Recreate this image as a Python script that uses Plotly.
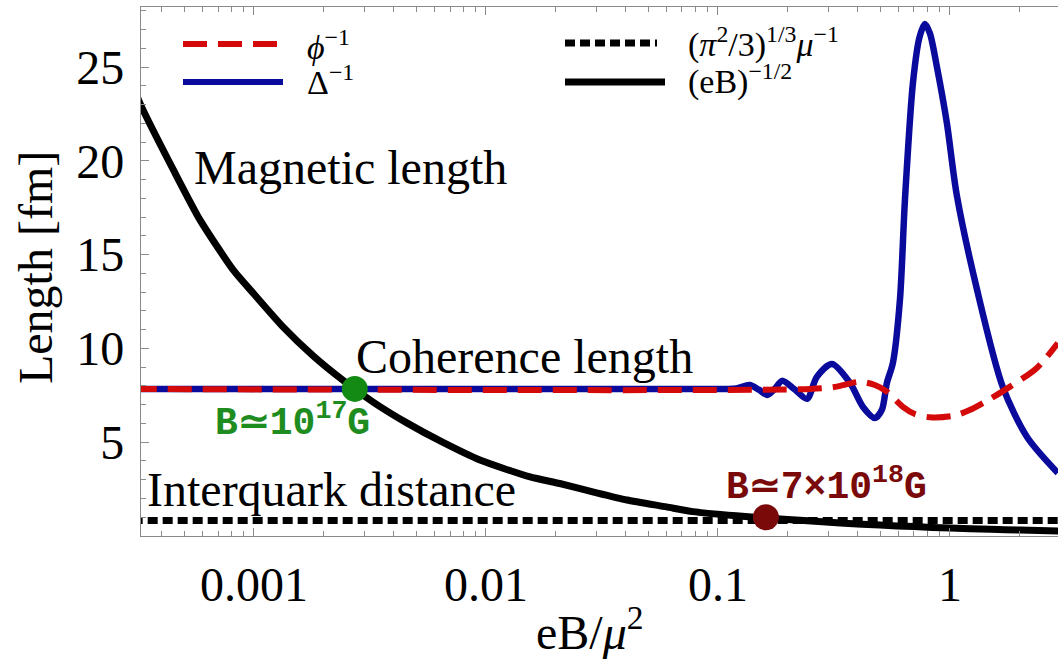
import plotly.graph_objects as go

# ---------------- data ----------------
x_mag = [0.00030, 0.000327, 0.00045, 0.000585, 0.000812, 0.001, 0.001334, 0.0018,
         0.00242, 0.0033, 0.00456, 0.0065, 0.00942, 0.0155, 0.0208, 0.03, 0.0405,
         0.06, 0.078, 0.12, 0.163, 0.226, 0.35, 0.5, 0.7, 1.0, 1.5, 2.0, 3.0]
y_mag = [24.0, 22.9, 19.5, 16.85, 14.2, 12.9, 11.15, 9.6,
         8.3, 7.1, 6.03, 5.0, 4.05, 3.15, 2.8, 2.3, 1.92,
         1.55, 1.3, 1.08, 0.96, 0.84, 0.68, 0.58, 0.5, 0.42, 0.36, 0.32, 0.27]

x_delta = [0.0003, 0.105, 0.12, 0.137, 0.150, 0.163, 0.176, 0.189, 0.215, 0.242,
           0.267, 0.310, 0.371, 0.422, 0.475, 0.509, 0.535, 0.568, 0.609, 0.64,
           0.693, 0.74, 0.78, 0.82, 0.879, 0.97, 1.07, 1.31, 1.69, 2.15, 2.92]
y_delta = [7.84, 7.84, 7.86, 8.05, 7.8, 7.52, 7.85, 8.27, 7.8, 7.31,
           8.48, 9.17, 8.16, 6.88, 6.29, 6.72, 8.16, 9.23, 12.59, 17.92,
           24.16, 26.6, 27.3, 26.8, 25.01, 22.03, 18.19, 13.12, 7.95, 5.28, 3.36]

x_phi = [0.0003, 0.25, 0.32, 0.409, 0.475, 0.535, 0.627, 0.706, 0.82, 1.03,
         1.21, 1.44, 1.81, 2.37, 2.92]
y_phi = [7.84, 7.84, 7.95, 8.22, 8.05, 7.7, 6.88, 6.5, 6.33, 6.4,
         6.7, 7.2, 7.95, 8.96, 10.29]

x_quark = [0.0003, 3.0]
y_quark = [0.83, 0.83]

x_dots = [0.00272, 0.161]
y_dots = [7.84, 1.0]
dot_colors = ["#138a13", "#7a0a0a"]

x_ticks = [0.001, 0.01, 0.1, 1]
x_ticktext = ["0.001", "0.01", "0.1", "1"]
y_ticks = [5, 10, 15, 20, 25]

RED = "#d40a0a"
BLUE = "#0a0a9c"
BLACK = "#000000"
FONT = "Liberation Serif"

W, H = 1058, 659
L, R, T, B = 141, 0, 7, 123
PW, PH = W - L - R, H - T - B


def px(xp):
    return (xp - L) / PW


def py(yp):
    return (H - B - yp) / PH


fig = go.Figure()
fig.add_trace(go.Scatter(x=x_delta, y=y_delta, mode="lines",
                         line=dict(color=BLUE, width=6.5, shape="spline", smoothing=0.8),
                         showlegend=False))
fig.add_trace(go.Scatter(x=x_phi, y=y_phi, mode="lines",
                         line=dict(color=RED, width=6, dash="24px,11px",
                                   shape="spline", smoothing=0.8),
                         showlegend=False))
fig.add_trace(go.Scatter(x=x_quark, y=y_quark, mode="lines",
                         line=dict(color=BLACK, width=7, dash="10px,5px"), showlegend=False))
fig.add_trace(go.Scatter(x=x_mag, y=y_mag, mode="lines",
                         line=dict(color=BLACK, width=7, shape="spline", smoothing=0.6),
                         showlegend=False))
fig.add_trace(go.Scatter(x=x_dots, y=y_dots, mode="markers",
                         marker=dict(color=dot_colors, size=26), showlegend=False))

minor_x = [m * 10.0 ** k for k in range(-4, 1) for m in range(2, 10)]

axis_common = dict(showgrid=False, zeroline=False, showline=True,
                   linecolor="#8a8a8a", linewidth=1.2, ticks="inside",
                   tickcolor="#8a8a8a", tickwidth=1.2,
                   tickfont=dict(family=FONT, size=48, color="black"))

fig.update_xaxes(type="log", range=[-3.487, 0.466], tickvals=x_ticks,
                 ticktext=x_ticktext, ticklen=8, mirror="ticks",
                 ticklabelstandoff=6,
                 minor=dict(tickmode="array", tickvals=minor_x, ticklen=5,
                            ticks="inside", tickcolor="#8a8a8a", tickwidth=1.2),
                 **axis_common)
fig.update_yaxes(range=[0, 28.2], tickvals=y_ticks, ticklen=8,
                 ticklabelstandoff=6,
                 minor=dict(dtick=1, ticklen=5, ticks="inside",
                            tickcolor="#8a8a8a", tickwidth=1.2),
                 **axis_common)

# ---------------- legend (drawn by hand) ----------------
shapes = [
    dict(type="line", xref="paper", yref="paper", x0=px(183), x1=px(280),
         y0=py(44), y1=py(44), line=dict(color=RED, width=6, dash="24px,11px")),
    dict(type="line", xref="paper", yref="paper", x0=px(183), x1=px(283),
         y0=py(82), y1=py(82), line=dict(color=BLUE, width=6)),
    dict(type="line", xref="paper", yref="paper", x0=px(565), x1=px(657),
         y0=py(43), y1=py(43), line=dict(color=BLACK, width=7, dash="10px,5px")),
    dict(type="line", xref="paper", yref="paper", x0=px(565), x1=px(665),
         y0=py(82), y1=py(82), line=dict(color=BLACK, width=7)),
]

ann = []


def text(s, xp, yp, size, color="black", family=FONT, xanchor="left", angle=0):
    ann.append(dict(text=s, x=px(xp), y=py(yp), xref="paper", yref="paper",
                    xanchor=xanchor, yanchor="middle", showarrow=False,
                    textangle=angle,
                    font=dict(family=family, size=size, color=color)))


text("<i>ϕ</i><sup>−1</sup>", 305, 45, 34)
text("Δ<sup>−1</sup>", 305, 80, 34)
text("(<i>π</i><sup>2</sup>/3)<sup>1/3</sup><i>μ</i><sup>−1</sup>", 686, 43, 34)
text("(eB)<sup>−1/2</sup>", 686, 80, 34)

text("Magnetic length", 192, 167, 48)
text("Coherence length", 354, 356, 48)
text("Interquark distance", 145, 489, 48)
text("<b>B≃10<sup>17</sup>G</b>", 213, 420, 38, color="#1e8c1e", family="Liberation Mono")
text("<b>B≃7×10<sup>18</sup>G</b>", 724, 484, 38, color="#7a0a0a", family="Liberation Mono")

text("eB/<i>μ</i><sup>2</sup>", 590, 629, 48, xanchor="center")
text("Length [fm]", 35, 268, 48, xanchor="center", angle=-90)

fig.update_layout(width=W, height=H, margin=dict(l=L, r=R, t=T, b=B, pad=0),
                  paper_bgcolor="white", plot_bgcolor="white",
                  shapes=shapes, annotations=ann, showlegend=False)

fig.write_html("out.html")
